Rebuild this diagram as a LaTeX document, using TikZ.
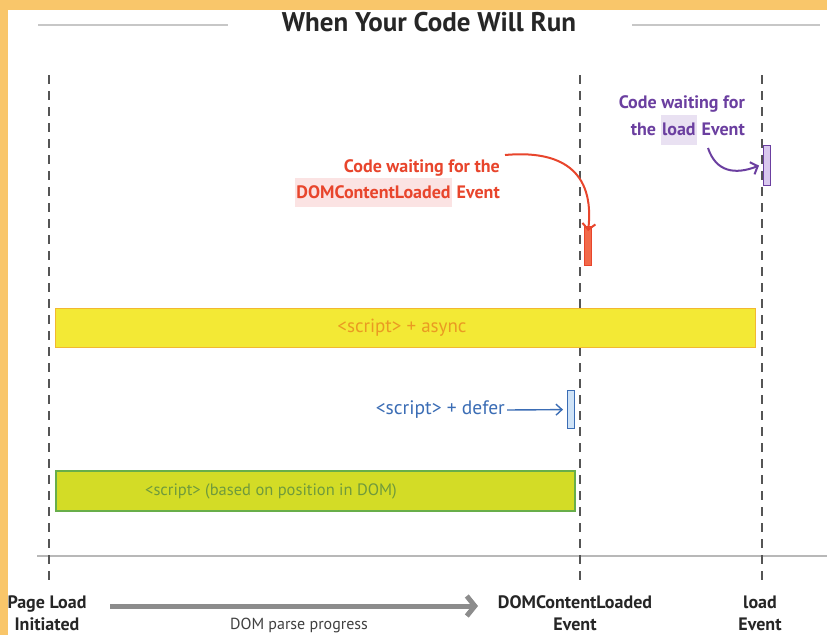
\documentclass[tikz,border=0pt]{standalone}
\usepackage{fontspec}
\setmainfont{PT Sans}
\usetikzlibrary{arrows.meta}
\definecolor{bgorange}{HTML}{F9C66A}
\definecolor{dashgray}{HTML}{555555}
\definecolor{redc}{HTML}{E8452C}
\definecolor{redfill}{HTML}{F26A4A}
\definecolor{pinkhl}{HTML}{FBE3E3}
\definecolor{purc}{HTML}{6B3FA0}
\definecolor{purfill}{HTML}{D9C8EE}
\definecolor{purhl}{HTML}{E9E1F2}
\definecolor{bluec}{HTML}{3B6DB5}
\definecolor{bluefill}{HTML}{CFE3F7}
\definecolor{yelfill}{HTML}{F3E935}
\definecolor{yelborder}{HTML}{F2B830}
\definecolor{yeltext}{HTML}{EA9A22}
\definecolor{grnfill}{HTML}{D3DC26}
\definecolor{grnborder}{HTML}{68AE4A}
\definecolor{grntext}{HTML}{6F9A3C}
\tikzset{
  vdash/.style={dashgray, line width=2pt, dash pattern=on 9pt off 7pt},
  bottomlbl/.style={font=\bfseries\fontsize{18}{22}\selectfont, text=black!85, align=center, inner sep=0pt},
  tick/.style={inner sep=0pt, minimum width=7pt},
}
\begin{document}
\begin{tikzpicture}[x=1pt,y=-1pt]
\useasboundingbox (0,0) rectangle (827,635);
\fill[white] (0,0) rectangle (827,635);
\fill[bgorange] (0,0) rectangle (827,10);
\fill[bgorange] (0,0) rectangle (8,635);
% title
\node[font=\bfseries\fontsize{27}{30}\selectfont, text=black!85] (title) at (429,22) {When Your Code Will Run};
\draw[black!22, line width=2pt] (38,25) -- (228,25);
\draw[black!22, line width=2pt] (632,25) -- (820,25);
% axis
\draw[black!28, line width=2pt] (37,556) -- (827,556);
% dashed verticals
\draw[vdash] (49,75) -- (49,582);
\draw[vdash] (580,75) -- (580,582);
\draw[vdash] (762,75) -- (762,582);
% async bar
\node[draw=yelborder, fill=yelfill, line width=1.2pt, minimum width=700pt, minimum height=39pt, inner sep=0pt, anchor=north west] (async) at (55,308) {};
\node[font=\fontsize{19}{22}\selectfont, text=yeltext] (asynctxt) at (402,328) {<script> + async};
% green bar
\node[draw=grnborder, fill=grnfill, line width=1.6pt, minimum width=519pt, minimum height=40pt, inner sep=0pt, anchor=north west] (normal) at (55,470) {};
\node[font=\fontsize{16.5}{20}\selectfont, text=grntext] (normaltxt) at (271,491) {<script> (based on position in DOM)};
% defer
\node[draw=bluec, fill=bluefill, line width=1.2pt, tick, minimum height=38pt, anchor=north west] (deferbar) at (567,390) {};
\node[text=bluec, font=\fontsize{19.5}{22}\selectfont, anchor=east, inner sep=2pt] (defertxt) at (507,410) {<script> + defer};
\draw[bluec, line width=1.4pt, -{Straight Barb[length=6pt,width=11pt]}] (defertxt.east) -- ([xshift=-4pt]deferbar.west);
% DOMContentLoaded waiting
\node[draw=redc, fill=redfill, line width=1.2pt, tick, minimum height=39pt, anchor=north west] (redbar) at (584,226) {};
\node[text=redc, font=\bfseries\fontsize{18}{26}\selectfont, align=right, anchor=north east, inner sep=0pt] (redlbl) at (500,159)
  {Code waiting for the\\{\setlength{\fboxsep}{1.5pt}\colorbox{pinkhl}{\strut DOMContentLoaded}} Event};
\draw[redc, line width=2pt, -{Straight Barb[length=6pt,width=13pt]}] ([xshift=5pt,yshift=4pt]redlbl.north east) .. controls (560,150) and (595,170) .. ([yshift=-5pt]redbar.north);
% load waiting
\node[draw=purc, fill=purfill, line width=1.2pt, tick, minimum height=40pt, anchor=north west] (purbar) at (763,145) {};
\node[text=purc, font=\bfseries\fontsize{18}{27}\selectfont, align=right, anchor=north east, inner sep=0pt] (purlbl) at (745,95)
  {Code waiting for\\the {\setlength{\fboxsep}{1.5pt}\colorbox{purhl}{\strut load}} Event};
\draw[purc, line width=2pt, -{Straight Barb[length=6pt,width=13pt]}] (708,148) .. controls (716,172) and (735,175) .. ([xshift=-4pt]purbar.west);
% bottom labels
\node[bottomlbl] (pageload) at (47,613) {Page Load\\Initiated};
\node[bottomlbl] (dcl) at (575,613) {DOMContentLoaded\\Event};
\node[bottomlbl] (loadev) at (760,613) {load\\Event};
\coordinate (progstart) at (110,606);
\coordinate (progend) at (478,606);
\draw[black!45, line width=5pt, -{Straight Barb[length=8pt,width=20pt]}] (progstart) -- (progend);
\node[font=\fontsize{16}{19}\selectfont, text=black!75] (progtxt) at (299,625) {DOM parse progress};
\end{tikzpicture}
\end{document}
